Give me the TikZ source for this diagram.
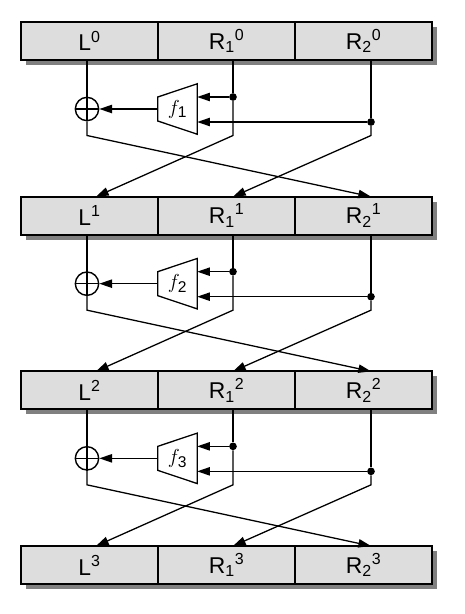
\documentclass[tikz,border=0pt]{standalone}
\usepackage{fontspec}
\setmainfont{Liberation Sans}
\usepackage{amsmath}
\usetikzlibrary{positioning, calc, arrows.meta, shadows}

\definecolor{cellgray}{HTML}{DDDDDD}
\definecolor{shadowgray}{HTML}{808080}

\tikzset{
    cell/.style={draw, line width=1.6pt, fill=cellgray, minimum width=4.11cm, minimum height=1.14cm,
        outer sep=0pt, inner sep=0pt, font=\fontsize{19.5}{22}\selectfont,
        drop shadow={shadow xshift=0.15cm, shadow yshift=-0.15cm, fill=shadowgray, opacity=1}},
    wire/.style={line width=1.1pt},
    xorgate/.style={draw, circle, line width=1.2pt, minimum size=0.7cm, inner sep=0pt},
    dot/.style={fill, circle, minimum size=0.23cm, inner sep=0pt},
    fbox/.style={minimum width=1.17cm, minimum height=1.5cm, inner sep=0pt, font=\fontsize{19}{22}\selectfont},
}

\begin{document}
\begin{tikzpicture}[x=0.03cm, y=-0.03cm, >={Triangle[length=0.38cm, width=0.25cm]}]
    \useasboundingbox (0,0) rectangle (464,614);

    % --- Registers: one row per round ---
    \foreach \r in {0,...,3} {
        \node[cell] (L\r) at (89.5, 41+174.67*\r) {L\textsuperscript{\r}};
        \node[cell, right=0pt of L\r] (Ra\r) {R\textsubscript{1}\textsuperscript{\r}};
        \node[cell, right=0pt of Ra\r] (Rb\r) {R\textsubscript{2}\textsuperscript{\r}};
    }

    % --- Rounds: f, xor and the swap into the next row ---
    \foreach \r [count=\n] in {0,1,2} {
        \coordinate (B\n) at (0, 135.5+174.67*\r);
        \node[xorgate] (X\n) at (87, 109+174.67*\r) {};
        \draw[wire] (X\n.north) -- (X\n.south) (X\n.west) -- (X\n.east);

        \node[fbox] (F\n) at (177.5, 109+174.67*\r) {$f_{\text{\n}}$};
        \draw[wire] (F\n.north east) -- (F\n.south east) -- ($(F\n.west)+(0,12)$) -- ($(F\n.west)+(0,-12)$) -- cycle;

        \node[dot] (Da\n) at (233, 97+174.67*\r) {};
        \node[dot] (Db\n) at (371, 122+174.67*\r) {};

        % inputs and output of f
        \draw[wire] (Da\n |- Ra\r.south) -- (Da\n);
        \draw[wire, ->] (Da\n) -- (Da\n -| F\n.east);
        \draw[wire] (Db\n |- Rb\r.south) -- (Db\n);
        \draw[wire, ->] (Db\n) -- (Db\n -| F\n.east);
        \draw[wire, ->] (F\n.west) -- (X\n.east);
        \draw[wire] (X\n |- L\r.south) -- (X\n.north);

        % crossing lines
        \draw[wire, ->] (X\n.south) -- (X\n |- B\n) -- (Db\n |- Rb\n.north);
        \draw[wire, ->] (Da\n) -- (Da\n |- B\n) -- ($(X\n |- L\n.north)+(9,0)$);
        \draw[wire, ->] (Db\n) -- (Db\n |- B\n) -- (Da\n |- Ra\n.north);
    }
\end{tikzpicture}
\end{document}
